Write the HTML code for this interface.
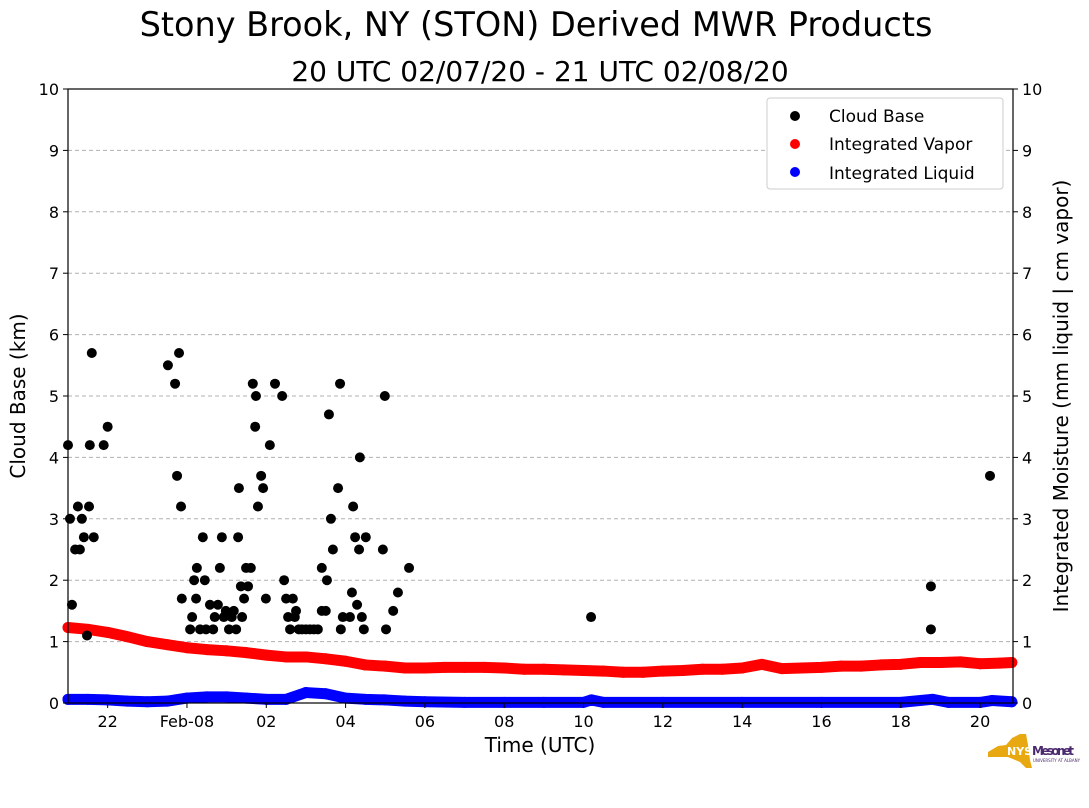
<!DOCTYPE html>
<html><head><meta charset="utf-8"><style>
body{margin:0;background:#fff;width:1089px;height:804px;overflow:hidden;font-family:"DejaVu Sans","Liberation Sans",sans-serif}
svg text{font-family:"DejaVu Sans","Liberation Sans",sans-serif}
</style></head><body>
<svg id="chart" width="1089" height="804">
<text x="536" y="36" font-size="33.5" text-anchor="middle">Stony Brook, NY (STON) Derived MWR Products</text>
<text x="540" y="81" font-size="28" text-anchor="middle">20 UTC 02/07/20 - 21 UTC 02/08/20</text>
<g id="grid"></g><g id="marks"></g><g id="axes"></g>
<text x="540" y="752" font-size="20" text-anchor="middle">Time (UTC)</text>
<text transform="translate(25,396) rotate(-90)" font-size="20" text-anchor="middle">Cloud Base (km)</text>
<text transform="translate(1068,396) rotate(-90)" font-size="20" text-anchor="middle">Integrated Moisture (mm liquid | cm vapor)</text>
<g>
<rect x="767" y="98" width="236" height="91" rx="3" fill="#fff" stroke="#ccc"/>
<circle cx="795" cy="116" r="5" fill="#000"/><text x="829" y="122" font-size="17">Cloud Base</text>
<circle cx="795" cy="144" r="5" fill="red"/><text x="829" y="150" font-size="17">Integrated Vapor</text>
<circle cx="795" cy="172" r="5" fill="blue"/><text x="829" y="179" font-size="17">Integrated Liquid</text>
</g>
<g>
<path d="M988 752 L998 746 L1006 745 L1012 738 L1020 734 L1026 734 L1028 745 L1030 760 L1032 768 L1026 768 L1020 762 L1008 757 L988 757 Z" fill="#e8a811"/>
<text x="1007" y="755" font-size="11" font-weight="bold" fill="#fff">NYS</text>
<text x="1032" y="755" font-size="12" font-weight="bold" fill="#4b2a6e" textLength="42">Mesonet</text>
<text x="1033" y="762" font-size="4" fill="#4b2a6e">UNIVERSITY AT ALBANY</text>
</g>
</svg>
<script>
const cbTime=[-3.0,-2.95,-2.9,-2.82,-2.75,-2.7,-2.65,-2.6,-2.52,-2.47,-2.45,-2.4,-2.35,-2.1,-2.0,-0.48,-0.3,-0.25,-0.2,-0.15,-0.13,0.08,0.13,0.18,0.23,0.25,0.33,0.4,0.45,0.48,0.58,0.66,0.7,0.78,0.83,0.88,0.93,0.98,1.06,1.13,1.18,1.24,1.29,1.31,1.36,1.39,1.44,1.49,1.54,1.61,1.66,1.72,1.74,1.79,1.87,1.92,1.99,2.09,2.22,2.4,2.45,2.5,2.55,2.6,2.67,2.72,2.75,2.82,2.9,3.0,3.1,3.2,3.3,3.4,3.4,3.5,3.53,3.58,3.63,3.68,3.81,3.86,3.88,3.93,4.11,4.16,4.19,4.24,4.29,4.34,4.36,4.41,4.46,4.51,4.94,4.99,5.02,5.2,5.32,5.6,10.19,18.76,18.76,20.25];
const cbKm=[4.2,3.0,1.6,2.5,3.2,2.5,3.0,2.7,1.1,3.2,4.2,5.7,2.7,4.2,4.5,5.5,5.2,3.7,5.7,3.2,1.7,1.2,1.4,2.0,1.7,2.2,1.2,2.7,2.0,1.2,1.6,1.2,1.4,1.6,2.2,2.7,1.4,1.5,1.2,1.4,1.5,1.2,2.7,3.5,1.9,1.4,1.7,2.2,1.9,2.2,5.2,4.5,5.0,3.2,3.7,3.5,1.7,4.2,5.2,5.0,2.0,1.7,1.4,1.2,1.7,1.4,1.5,1.2,1.2,1.2,1.2,1.2,1.2,1.5,2.2,1.5,2.0,4.7,3.0,2.5,3.5,5.2,1.2,1.4,1.4,1.8,3.2,2.7,1.6,2.5,4.0,1.4,1.2,2.7,2.5,5.0,1.2,1.5,1.8,2.2,1.4,1.2,1.9,3.7];
const vapTime=[-3,-2.5,-2,-1.5,-1,-0.5,0,0.5,1,1.5,2,2.5,3,3.5,4,4.5,5,5.5,6,6.5,7,7.5,8,8.5,9,9.5,10,10.5,11,11.5,12,12.5,13,13.5,14,14.5,15,15.5,16,16.5,17,17.5,18,18.5,19,19.5,20,20.5,20.8];
const vapVal=[1.23,1.2,1.15,1.08,1.0,0.95,0.9,0.87,0.85,0.82,0.78,0.75,0.75,0.72,0.68,0.62,0.6,0.57,0.57,0.58,0.58,0.58,0.57,0.55,0.55,0.54,0.53,0.52,0.5,0.5,0.52,0.53,0.55,0.55,0.57,0.63,0.56,0.57,0.58,0.6,0.6,0.62,0.63,0.66,0.66,0.67,0.64,0.65,0.66];
const liqTime=[-3,-2.5,-2,-1.5,-1,-0.5,0,0.5,1,1.5,2,2.5,3,3.5,4,4.5,5,5.5,6,7,8,9,10,10.2,10.5,12,14,16,18,18.8,19.2,20,20.3,20.8];
const liqVal=[0.06,0.06,0.05,0.03,0.02,0.03,0.08,0.1,0.1,0.08,0.06,0.06,0.17,0.15,0.08,0.06,0.05,0.03,0.02,0.01,0.01,0.01,0.01,0.05,0.01,0.01,0.01,0.01,0.01,0.06,0.01,0.01,0.04,0.02];
const yTicks=[0,1,2,3,4,5,6,7,8,9,10];
const xTickHours=[-2,0,2,4,6,8,10,12,14,16,18,20];
const xTickLabels=["22","Feb-08","02","04","06","08","10","12","14","16","18","20"];
const X0=68,X1=1013,Y0=703,Y1=89,T0=-3,T1=20.83;
const sx=t=>X0+(t-T0)/(T1-T0)*(X1-X0);
const sy=v=>Y0-v/10*(Y0-Y1);
const NS="http://www.w3.org/2000/svg";
function mk(tag,attrs,parent){const e=document.createElementNS(NS,tag);for(const k in attrs)e.setAttribute(k,attrs[k]);document.getElementById(parent).appendChild(e);return e;}
yTicks.forEach(v=>{
 if(v>0&&v<10){const g=mk('line',{x1:X0,x2:X1,y1:sy(v),y2:sy(v),stroke:'#b0b0b0','stroke-dasharray':'4,3','stroke-width':1},'grid');
 
 }
 mk('line',{x1:X0-5,x2:X0,y1:sy(v),y2:sy(v),stroke:'#000'},'axes');
 mk('line',{x1:X1,x2:X1+5,y1:sy(v),y2:sy(v),stroke:'#000'},'axes');
 const l=mk('text',{x:X0-9,y:sy(v)+6,'font-size':16,'text-anchor':'end'},'axes');l.textContent=v;
 
 
 const r=mk('text',{x:X1+9,y:sy(v)+6,'font-size':16},'axes');r.textContent=v;
 
 
});
xTickHours.forEach((h,i)=>{
 mk('line',{x1:sx(h),x2:sx(h),y1:Y0,y2:Y0+5,stroke:'#000'},'axes');
 const t=mk('text',{x:sx(h),y:Y0+24,'font-size':16,'text-anchor':'middle'},'axes');t.textContent=xTickLabels[i];
 
 
});
mk('rect',{x:X0,y:Y1,width:X1-X0,height:Y0-Y1,fill:'none',stroke:'#000','stroke-width':1.2},'axes');
function series(ts,vs,color,name){
 const pts=ts.map((t,i)=>sx(t)+','+sy(vs[i])).join(' ');
 const p=mk('polyline',{points:pts,fill:'none',stroke:color,'stroke-width':11,'stroke-linejoin':'round','stroke-linecap':'round'},'marks');
 
 
 ts.forEach((t,i)=>{const c=mk('circle',{cx:sx(t),cy:sy(vs[i]),r:5.5,fill:color},'marks');
 
 });
}
series(vapTime,vapVal,'red','integrated-vapor');
series(liqTime,liqVal,'blue','integrated-liquid');
cbTime.forEach((t,i)=>{const c=mk('circle',{cx:sx(t),cy:sy(cbKm[i]),r:5,fill:'#000'},'marks');
 
 });
</script>
</body></html>
